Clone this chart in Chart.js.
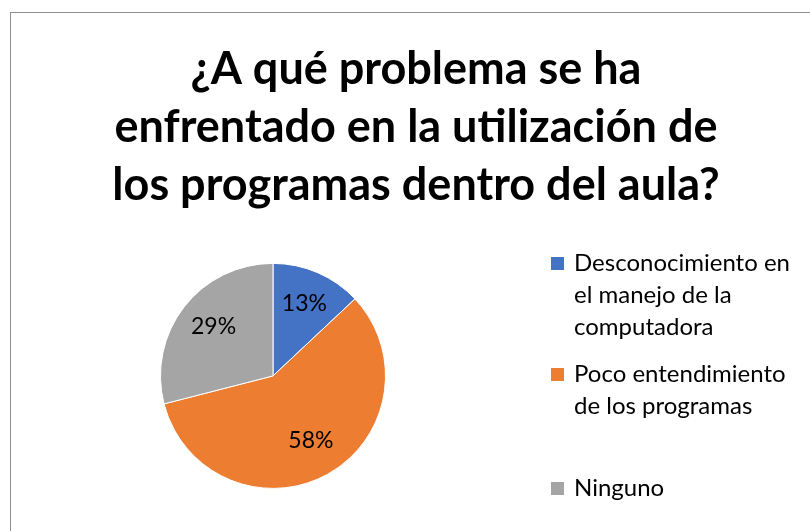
<!DOCTYPE html>
<html>
<head>
<meta charset="utf-8">
<script src="https://cdn.jsdelivr.net/npm/chart.js@4.4.1/dist/chart.umd.min.js"></script>
<style>
  html, body { margin: 0; padding: 0; background: #fff; overflow: hidden; }
  #wrap { position: relative; width: 810px; height: 531px; }
  #frame { position: absolute; left: 10px; top: 12px; width: 830px; height: 560px; border: 1px solid #8f8f8f; box-sizing: border-box; }
  #box { position: absolute; left: 0; top: 0; width: 810px; height: 531px; }
</style>
</head>
<body>
<div id="wrap">
  <div id="frame"></div>
  <div id="box"><canvas id="grafico"></canvas></div>
</div>
<script>
const titulo = ['¿A qué problema se ha', 'enfrentado en la utilización de', 'los programas dentro del aula?']
const categorias = [
  ['Desconocimiento en', 'el manejo de la', 'computadora'],
  ['Poco entendimiento', 'de los programas'],
  ['Ninguno']
]
const valores = [13, 58, 29]
const colores = ['#4472C4', '#ED7D31', '#A5A5A5']

// y de la primera línea (línea base) de cada entrada de la leyenda
const leyendaY = [271, 382, 496]
const fuente = 'Lato, "Open Sans", sans-serif'

// el pastel queda a la izquierda, la leyenda a la derecha
const zonaPastel = {
  id: 'zonaPastel',
  afterLayout(chart) {
    const a = chart.chartArea
    a.left = 160
    a.right = 386
    a.width = a.right - a.left
  }
}

// porcentajes dentro de cada porción
const etiquetas = {
  id: 'etiquetas',
  afterDatasetsDraw(chart) {
    const ctx = chart.ctx
    const meta = chart.getDatasetMeta(0)
    const total = valores.reduce((a, b) => a + b, 0)
    ctx.save()
    ctx.font = '23px ' + fuente
    ctx.fillStyle = '#000'
    ctx.textAlign = 'center'
    ctx.textBaseline = 'middle'
    meta.data.forEach((arc, i) => {
      const p = arc.getProps(['x', 'y', 'startAngle', 'endAngle', 'outerRadius'])
      const ang = (p.startAngle + p.endAngle) / 2
      const r = p.outerRadius * 0.68
      const txt = Math.round(valores[i] / total * 100) + '%'
      ctx.fillText(txt, p.x + Math.cos(ang) * r + 1, p.y + Math.sin(ang) * r - 2)
    })
    ctx.restore()
  }
}

// leyenda con varias líneas
const leyenda = {
  id: 'leyenda',
  afterDraw(chart) {
    const ctx = chart.ctx
    ctx.save()
    ctx.font = '24px ' + fuente
    ctx.textBaseline = 'alphabetic'
    ctx.textAlign = 'left'
    categorias.forEach((lineas, i) => {
      const y = leyendaY[i]
      ctx.fillStyle = colores[i]
      ctx.fillRect(551, y - 14, 13, 13)
      ctx.fillStyle = '#000'
      lineas.forEach((l, j) => ctx.fillText(l, 574, y + j * 32))
    })
    ctx.restore()
  }
}

const ctx = document.getElementById('grafico').getContext('2d')
let chart = new Chart(ctx, {
  type: 'pie',
  data: {
    labels: categorias,
    datasets: [{
      data: valores,
      backgroundColor: colores,
      borderColor: '#fff',
      borderWidth: 1
    }]
  },
  options: {
    responsive: true,
    maintainAspectRatio: false,
    animation: false,
    layout: { padding: { left: 22, right: 0, top: 0, bottom: 42 } },
    plugins: {
      legend: { display: false },
      tooltip: { enabled: false },
      title: {
        display: true,
        text: titulo,
        color: '#000',
        font: { family: fuente, size: 45, weight: 'bold', lineHeight: 1.28 },
        padding: { top: 41, bottom: 49 }
      }
    }
  },
  plugins: [zonaPastel, etiquetas, leyenda]
})
</script>
</body>
</html>
